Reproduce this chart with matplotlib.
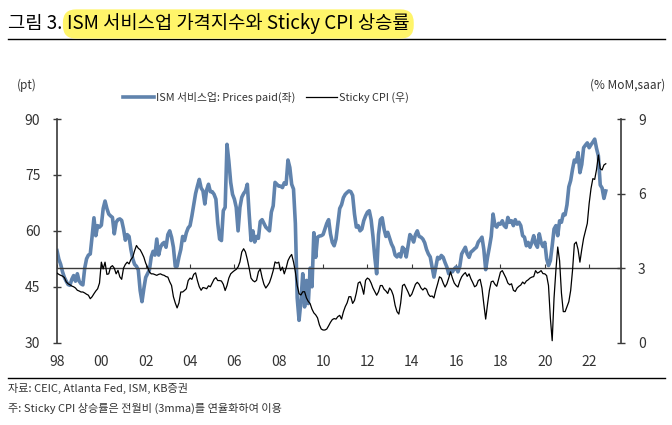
import numpy as np
import matplotlib.pyplot as plt
from matplotlib.lines import Line2D

plt.rcParams['font.family'] = ['Noto Sans CJK KR', 'DejaVu Sans']

## monthly series, Jan 1998 - Oct 2022
ism_prices = [
    54.7, 52.4, 51.0, 49.0, 47.5, 46.5, 45.6, 45.4, 47.0, 48.0, 46.5, 48.5,  # 1998
    46.5, 45.8, 45.5, 50.0, 52.5, 53.5, 53.8, 58.5, 63.5, 58.7, 61.4, 61.0,  # 1999
    61.5, 66.0, 68.0, 66.0, 64.5, 64.0, 63.6, 59.2, 62.3, 63.0, 63.2, 62.8,  # 2000
    60.5, 57.5, 59.0, 58.5, 55.0, 52.5, 51.0, 50.5, 49.5, 44.0, 41.0, 44.5,  # 2001
    47.5, 48.5, 49.5, 53.0, 54.5, 53.5, 57.8, 53.5, 55.6, 56.5, 56.9, 55.6,  # 2002
    59.0, 60.0, 58.3, 55.6, 50.5, 50.5, 53.0, 55.0, 58.5, 57.4, 59.5, 60.8,  # 2003
    61.4, 64.0, 67.0, 70.0, 72.0, 73.8, 71.5, 70.7, 67.2, 71.0, 72.5, 70.5,  # 2004
    70.5, 69.8, 68.5, 62.0, 57.8, 57.4, 65.4, 66.3, 83.2, 78.7, 73.0, 69.8,  # 2005
    68.5, 66.3, 60.0, 66.3, 69.0, 70.0, 70.7, 72.5, 64.5, 57.4, 60.0, 57.0,  # 2006
    58.5, 58.0, 62.5, 63.0, 62.0, 61.0, 60.5, 60.0, 65.0, 66.7, 73.0, 72.5,  # 2007
    72.0, 72.0, 71.6, 72.9, 72.5, 79.0, 77.0, 72.5, 71.2, 62.0, 42.0, 36.0,  # 2008
    41.0, 48.5, 39.6, 46.7, 40.5, 50.0, 45.0, 59.5, 52.9, 58.3, 58.6, 58.7,  # 2009
    59.0, 60.5, 62.0, 63.0, 59.2, 56.9, 56.0, 57.8, 62.0, 66.0, 67.0, 68.9,  # 2010
    69.8, 70.3, 70.7, 70.5, 69.5, 64.5, 61.0, 61.4, 60.0, 60.5, 62.7, 64.0,  # 2011
    65.0, 65.4, 63.0, 58.5, 52.9, 48.5, 59.0, 63.0, 63.5, 60.5, 58.5, 59.6,  # 2012
    58.0, 56.5, 55.5, 53.5, 53.0, 53.8, 53.0, 55.6, 55.0, 53.0, 56.0, 59.0,  # 2013
    58.3, 57.0, 59.0, 60.0, 58.5, 58.3, 57.8, 56.8, 55.0, 53.8, 53.0, 50.3,  # 2014
    47.6, 50.3, 52.9, 52.5, 53.4, 52.9, 51.5, 50.3, 48.5, 49.4, 49.0, 49.8,  # 2015
    50.3, 49.0, 50.5, 53.8, 54.7, 55.6, 53.8, 52.9, 54.3, 54.7, 55.2, 55.6,  # 2016
    57.0, 57.6, 58.3, 55.0, 49.6, 52.9, 55.6, 58.5, 64.5, 61.5, 61.0, 62.0,  # 2017
    61.8, 62.7, 61.4, 60.9, 63.6, 62.3, 62.7, 61.4, 63.0, 61.8, 62.3, 61.4,  # 2018
    58.7, 58.3, 56.0, 56.9, 55.6, 56.9, 58.7, 56.5, 55.6, 59.2, 56.9, 55.8,  # 2019
    56.9, 52.5, 50.7, 52.0, 56.0, 60.5, 61.4, 58.7, 62.7, 62.3, 64.5, 64.3,  # 2020
    67.0, 71.8, 73.5, 76.5, 79.0, 78.5, 81.0, 75.6, 77.8, 82.3, 83.0, 83.6,  # 2021
    82.3, 83.1, 83.8, 84.6, 82.1, 80.1, 72.3, 71.5, 68.7, 70.7,              # 2022
]

sticky_cpi = [
    2.80, 2.75, 2.71, 2.68, 2.62, 2.45, 2.37, 2.33, 2.28, 2.25, 2.20, 2.11,  # 1998
    2.08, 2.04, 2.04, 2.00, 1.95, 1.91, 1.77, 1.85, 1.97, 2.08, 2.17, 2.40,  # 1999
    3.24, 2.97, 3.24, 2.75, 2.77, 3.04, 3.10, 3.00, 2.77, 2.91, 2.65, 2.55,  # 2000
    3.00, 3.15, 3.24, 3.17, 3.35, 3.44, 3.70, 3.91, 3.80, 3.74, 3.60, 3.44,  # 2001
    3.20, 3.04, 2.85, 2.77, 2.77, 2.74, 2.71, 2.75, 2.77, 2.73, 2.71, 2.66,  # 2002
    2.64, 2.45, 2.30, 1.85, 1.60, 1.40, 1.60, 2.04, 2.04, 2.10, 2.17, 2.50,  # 2003
    2.60, 2.55, 2.75, 2.81, 2.50, 2.25, 2.11, 2.22, 2.20, 2.17, 2.29, 2.25,  # 2004
    2.40, 2.55, 2.62, 2.50, 2.50, 2.48, 2.35, 2.10, 2.30, 2.60, 2.77, 2.84,  # 2005
    2.90, 2.95, 3.05, 3.25, 3.65, 3.78, 3.65, 3.35, 3.00, 2.60, 2.50, 2.45,  # 2006
    2.51, 2.85, 2.97, 2.62, 2.35, 2.20, 2.30, 2.42, 2.64, 2.90, 3.25, 3.20,  # 2007
    3.24, 2.90, 3.04, 2.77, 3.00, 3.30, 3.45, 3.55, 3.25, 2.85, 2.30, 1.97,  # 2008
    1.92, 2.05, 2.05, 1.80, 1.66, 1.57, 1.35, 1.20, 1.12, 1.00, 0.72, 0.55,  # 2009
    0.51, 0.51, 0.55, 0.68, 0.82, 0.93, 0.97, 0.95, 1.05, 1.10, 0.95, 1.24,  # 2010
    1.45, 1.60, 1.85, 1.85, 1.58, 1.70, 2.00, 2.40, 2.45, 2.25, 1.95, 2.51,  # 2011
    2.60, 2.55, 2.40, 2.20, 2.05, 1.91, 2.05, 2.30, 2.30, 2.15, 2.08, 1.98,  # 2012
    2.20, 2.10, 1.90, 1.50, 1.25, 1.15, 1.60, 2.30, 2.35, 2.20, 2.04, 1.86,  # 2013
    1.95, 2.15, 2.35, 2.43, 2.35, 2.20, 2.12, 2.20, 2.15, 1.95, 1.86, 1.88,  # 2014
    1.80, 2.11, 2.37, 2.65, 2.60, 2.40, 2.24, 2.37, 2.60, 2.85, 2.60, 2.40,  # 2015
    2.30, 2.24, 2.48, 2.65, 2.75, 2.82, 2.67, 2.77, 2.57, 2.42, 2.25, 2.30,  # 2016
    2.50, 2.55, 2.20, 1.55, 0.95, 1.55, 2.10, 2.45, 2.48, 2.35, 2.27, 2.55,  # 2017
    2.84, 2.90, 2.75, 2.60, 2.40, 2.33, 2.37, 2.11, 2.06, 2.20, 2.27, 2.32,  # 2018
    2.44, 2.37, 2.48, 2.53, 2.60, 2.64, 2.66, 2.90, 2.80, 2.84, 2.90, 2.78,  # 2019
    2.77, 2.70, 2.30, 1.00, 0.08, 1.80, 2.91, 3.85, 3.30, 2.00, 1.25, 1.25,  # 2020
    1.45, 1.65, 2.10, 2.91, 3.97, 4.05, 3.75, 3.24, 3.75, 4.20, 4.50, 4.80,  # 2021
    5.60, 6.20, 6.60, 6.57, 6.97, 7.55, 7.00, 6.95, 7.15, 7.20,              # 2022
]

year_ticks = list(range(1998, 2023, 2))
year_labels = [f"{y % 100:02d}" for y in year_ticks]
left_ticks = [30, 45, 60, 75, 90]
right_ticks = [0, 3, 6, 9]

blue = "#6083AD"
axis_col = "#3a3a3a"
text_col = "#333333"

x = 1998 + np.arange(len(ism_prices)) / 12.0

fig = plt.figure(figsize=(6.72, 4.25), dpi=100)
W, H = 672.0, 425.0
ax = fig.add_axes([57 / W, 1 - 342.7 / H, (621.3 - 57) / W, (342.7 - 119) / H])
ax2 = ax.twinx()

ax.plot(x, ism_prices, color=blue, lw=2.6, solid_joinstyle="round")
ax2.plot(x, sticky_cpi, color="black", lw=0.9)

ax.set_xlim(1998.0, 2023.45)
ax.set_ylim(30, 90)
ax2.set_ylim(0, 9)

## x axis drawn on the 3 (right) / 50 (left) line, labels at the bottom
ax.spines["bottom"].set_position(("data", 50))
ax.spines["bottom"].set_color(axis_col)
ax.spines["bottom"].set_linewidth(1.0)
ax.set_xticks(year_ticks)
ax.tick_params(axis="x", direction="in", length=3, width=0.8, color=axis_col, labelbottom=False)
secax = ax.secondary_xaxis(0)
secax.set_xticks(year_ticks, year_labels)
secax.spines["bottom"].set_visible(False)
secax.tick_params(length=0, pad=9, labelsize=10, labelcolor=text_col)

for a in (ax, ax2):
    a.spines["top"].set_visible(False)
ax.spines["right"].set_visible(False)
ax2.spines["left"].set_visible(False)
ax2.spines["bottom"].set_visible(False)
ax.spines["left"].set_color(axis_col)
ax2.spines["right"].set_color(axis_col)
ax.spines["left"].set_linewidth(1.2)
ax2.spines["right"].set_linewidth(1.2)

ax.set_yticks(left_ticks)
ax2.set_yticks(right_ticks)
ax.tick_params(axis="y", direction="inout", length=6, width=1.0, color=axis_col,
               pad=9, labelsize=10, labelcolor=text_col)
ax2.tick_params(axis="y", direction="inout", length=6, width=1.0, color=axis_col,
                pad=9, labelsize=10, labelcolor=text_col)

## title
fig.text(8 / W, 1 - 24 / H, "그림 3.", fontsize=13.5, color="black", va="center", ha="left")
fig.text(67 / W, 1 - 24 / H, "ISM 서비스업 가격지수와 Sticky CPI 상승률", fontsize=13.5,
         color="black", va="center", ha="left",
         bbox=dict(boxstyle="round,pad=0.22,rounding_size=0.7", fc="#FFF56A", ec="none"))
fig.add_artist(Line2D([8 / W, 665 / W], [1 - 39 / H, 1 - 39 / H], color="black", lw=1.0))

## units
fig.text(17 / W, 1 - 85 / H, "(pt)", fontsize=8.5, color=text_col, va="center", ha="left")
fig.text(665 / W, 1 - 85 / H, "(% MoM,saar)", fontsize=8.5, color=text_col, va="center", ha="right")

## legend
handles = [Line2D([], [], color=blue, lw=2.6), Line2D([], [], color="black", lw=0.9)]
fig.legend(handles, ["ISM 서비스업: Prices paid(좌)", "Sticky CPI (우)"],
           loc="center", bbox_to_anchor=(266 / W, 1 - 97 / H), ncol=2, frameon=False,
           fontsize=7.8, handlelength=2.9, handletextpad=0.2, columnspacing=0.9,
           labelcolor=text_col)

## footer
fig.add_artist(Line2D([8 / W, 665 / W], [1 - 378 / H, 1 - 378 / H], color="black", lw=1.0))
fig.text(8 / W, 1 - 388 / H, "자료: CEIC, Atlanta Fed, ISM, KB증권", fontsize=8,
         color=text_col, va="center", ha="left")
fig.text(8 / W, 1 - 408 / H, "주: Sticky CPI 상승률은 전월비 (3mma)를 연율화하여 이용", fontsize=8,
         color=text_col, va="center", ha="left")

fig.savefig("out.png", dpi=100)
